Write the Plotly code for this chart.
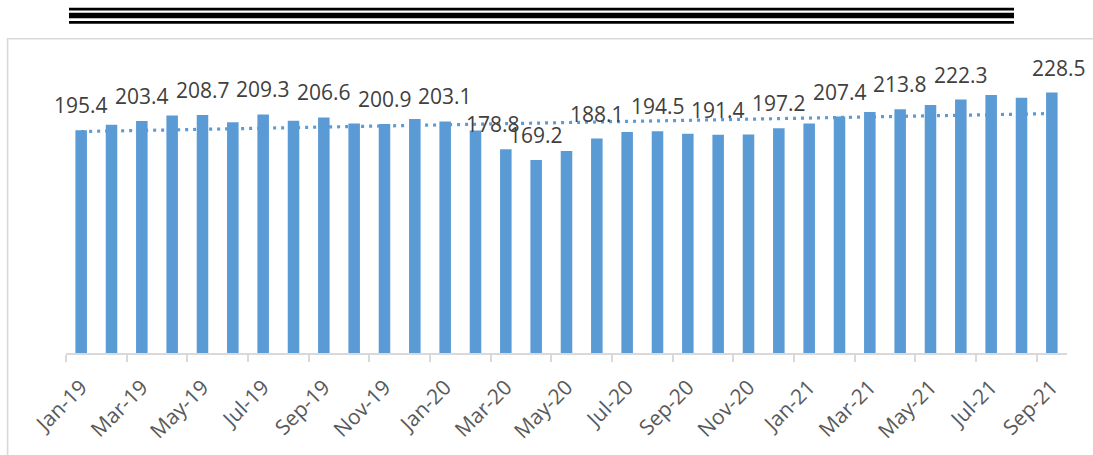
import plotly.graph_objects as go
import numpy as np

months = [
    "Jan-19", "Feb-19", "Mar-19", "Apr-19", "May-19", "Jun-19", "Jul-19", "Aug-19",
    "Sep-19", "Oct-19", "Nov-19", "Dec-19", "Jan-20", "Feb-20", "Mar-20", "Apr-20",
    "May-20", "Jun-20", "Jul-20", "Aug-20", "Sep-20", "Oct-20", "Nov-20", "Dec-20",
    "Jan-21", "Feb-21", "Mar-21", "Apr-21", "May-21", "Jun-21", "Jul-21", "Aug-21",
    "Sep-21",
]
values = [
    195.4, 200.2, 203.4, 208.4, 208.7, 202.5, 209.3, 203.7,
    206.6, 201.4, 200.9, 205.2, 203.1, 195.2, 178.8, 169.2,
    177.1, 188.1, 193.8, 194.5, 192.3, 191.4, 191.7, 197.2,
    201.4, 207.4, 211.3, 213.8, 217.5, 222.3, 226.3, 223.9,
    228.5,
]
# months whose value is printed above the bar
labeled_months = [
    "Jan-19", "Mar-19", "May-19", "Jul-19", "Sep-19", "Nov-19", "Jan-20", "Mar-20",
    "Apr-20", "Jun-20", "Aug-20", "Oct-20", "Dec-20", "Feb-21", "Apr-21", "Jun-21",
    "Sep-21",
]

BAR = "#5b9bd5"
FONT = "Open Sans"

fig = go.Figure()
fig.add_bar(x=months, y=values, marker_color=BAR, marker_line_width=0,
            hoverinfo="x+y")

# linear trendline (least squares over the series)
idx = np.arange(len(values))
slope, intercept = np.polyfit(idx, np.array(values), 1)
trend = slope * idx + intercept
fig.add_scatter(x=months, y=trend, mode="lines",
                line=dict(color=BAR, width=3.2, dash="3px,5px"),
                hoverinfo="skip")

label_xshift = {"Mar-20": -13, "Sep-21": 7}
for m in labeled_months:
    v = values[months.index(m)]
    fig.add_annotation(x=m, y=v, text=f"{v:.1f}", showarrow=False,
                       yanchor="middle", yshift=25,
                       xshift=label_xshift.get(m, 0),
                       font=dict(family=FONT, size=21, color="#404040"))

# page layout in pixels
W, H = 1093, 455
L, R, T, B = 66, 26, 68, 102
PW, PH = W - L - R, H - T - B


def px(x):
    return (x - L) / PW


def py(y):
    return (H - B - y) / PH


shapes = []
# decorative triple rule at top
for y0, y1 in [(7.8, 10.5), (12.7, 18.3), (21.0, 23.7)]:
    shapes.append(dict(type="rect", xref="paper", yref="paper",
                       x0=px(69), x1=px(1014), y0=py(y1), y1=py(y0),
                       fillcolor="black", line=dict(width=0), layer="above"))
# chart-area border (top and left)
shapes.append(dict(type="line", xref="paper", yref="paper",
                   x0=px(7), x1=px(1095), y0=py(38.8), y1=py(38.8),
                   line=dict(color="#d9d9d9", width=1.6)))
shapes.append(dict(type="line", xref="paper", yref="paper",
                   x0=px(7.6), x1=px(7.6), y0=py(38), y1=py(458),
                   line=dict(color="#d9d9d9", width=1.6)))

fig.update_layout(
    width=W, height=H,
    margin=dict(l=L, r=R, t=T, b=B, pad=0),
    plot_bgcolor="white", paper_bgcolor="white",
    showlegend=False,
    bargap=0.62,
    shapes=shapes,
    font=dict(family=FONT),
    xaxis=dict(
        type="category", range=[-0.5, len(months) - 0.5],
        tickmode="linear", tick0=0, dtick=2,
        tickson="boundaries", ticks="outside", ticklen=7,
        tickcolor="#d9d9d9", tickwidth=1.5,
        tickangle=-45, ticklabelstandoff=12,
        tickfont=dict(family=FONT, size=21, color="#595959"),
        showline=True, linecolor="#d9d9d9", linewidth=1.5,
        showgrid=False, zeroline=False,
    ),
    yaxis=dict(range=[0, 250], visible=False, showgrid=False, zeroline=False),
)

fig.write_html("out.html",
               config={"displayModeBar": False},
               post_script="document.body.style.margin='0';")
